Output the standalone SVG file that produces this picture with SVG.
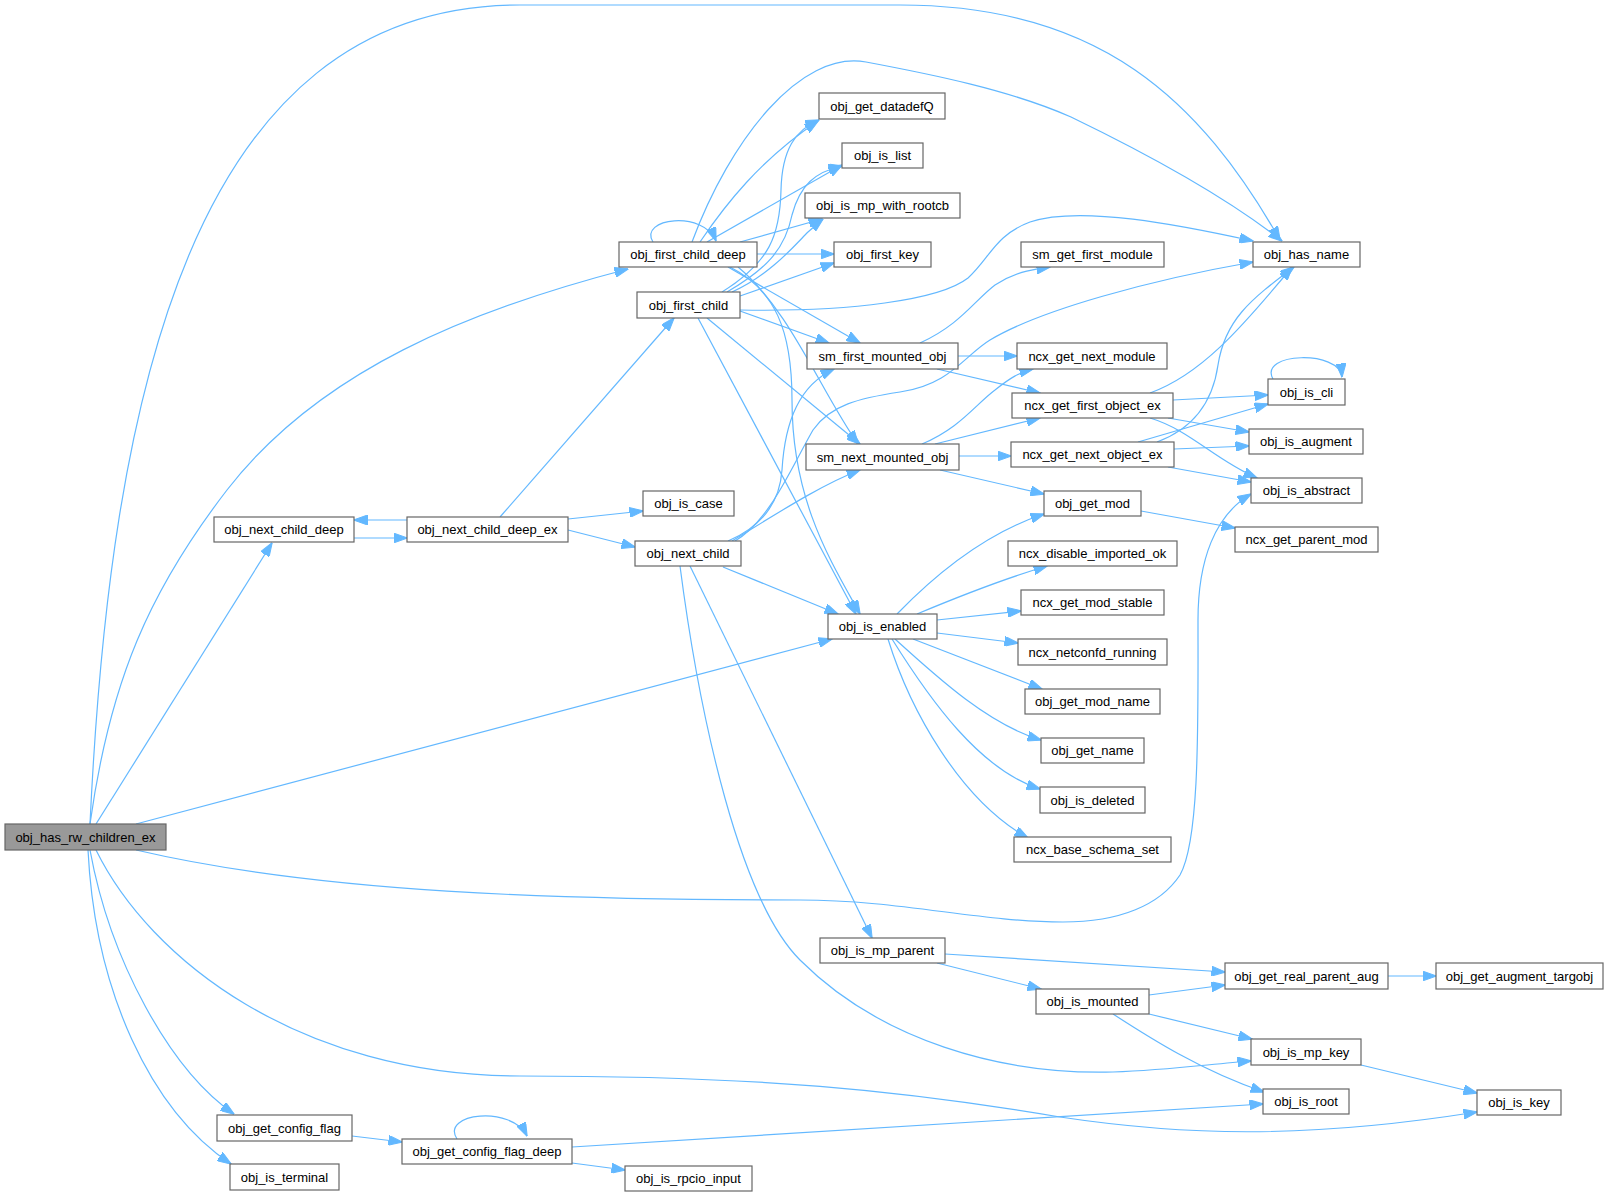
<svg xmlns="http://www.w3.org/2000/svg" width="1608" height="1197" viewBox="0 0 1608 1197">
<defs>
<style>
.n rect{fill:#fff;stroke:#666;stroke-width:1.2}
.n text{font-family:"Liberation Sans",Arial,sans-serif;font-size:13px;fill:#000;text-anchor:middle}
#edges path{fill:none;stroke:#63b8ff;stroke-width:1.2;marker-end:url(#ah)}
</style>
<marker id="ah" viewBox="0 0 14 10" refX="13.5" refY="5" markerWidth="14" markerHeight="10" markerUnits="userSpaceOnUse" orient="auto">
<path d="M0,0 L14,5 L0,10 z" fill="#63b8ff" stroke="#63b8ff" stroke-width="1"/>
</marker>
</defs>
<rect width="1608" height="1197" fill="#fff"/>
<g id="edges">
<path d="M90,824 C110,400 190,5 520,5 L900,5 C1100,5 1200,100 1280,240"/>
<path d="M90,824 C110,680 150,590 227,490 C320,370 470,310 628,269"/>
<path d="M96,824 L272,543"/>
<path d="M136,824 L832,639"/>
<path d="M136,850 C320,893 560,900 800,900 C900,900 980,922 1063,922 C1120,922 1160,905 1180,875 C1200,840 1198,720 1198,620 C1198,560 1215,515 1251,494"/>
<path d="M96,850 C150,960 300,1076 520,1076 C760,1076 900,1090 1060,1117 C1180,1135 1300,1140 1477,1112"/>
<path d="M90,850 C110,960 170,1070 234,1114"/>
<path d="M88,850 C95,990 150,1110 231,1164"/>
<path d="M354,538 L407,538"/>
<path d="M407,520 L354,520"/>
<path d="M500,517 L674,318"/>
<path d="M568,519 L643,511"/>
<path d="M568,530 L635,547"/>
<path d="M653,242 C638,218 704,210 716,241"/>
<path d="M700,242 C725,205 760,160 818,121"/>
<path d="M692,242 C730,140 800,50 866,62 C930,74 1010,90 1071,117 C1160,160 1230,200 1282,241"/>
<path d="M707,242 L842,165"/>
<path d="M740,242 L822,219"/>
<path d="M757,254 L834,254"/>
<path d="M728,267 L860,343"/>
<path d="M738,267 C790,310 820,390 858,444"/>
<path d="M730,267 C775,290 792,330 792,400 C792,500 830,560 860,614"/>
<path d="M722,292 C770,262 780,235 781,190 C782,150 795,130 819,120"/>
<path d="M727,292 C765,270 785,250 792,215 C800,185 815,172 842,166"/>
<path d="M732,292 C770,275 795,245 808,232 C815,226 818,223 823,219"/>
<path d="M740,296 L834,263"/>
<path d="M740,310 C850,312 940,300 968,278 C990,258 995,235 1030,222 C1080,205 1180,225 1253,241"/>
<path d="M740,311 L829,343"/>
<path d="M707,318 L860,444"/>
<path d="M698,318 L856,614"/>
<path d="M728,541 C765,525 780,500 782,470 C785,420 800,385 834,369"/>
<path d="M732,541 C770,518 820,485 860,470"/>
<path d="M723,567 L838,614"/>
<path d="M735,541 C770,520 790,470 813,430 C830,405 860,398 900,392 C950,385 965,355 990,340 C1040,310 1150,280 1253,262"/>
<path d="M690,566 L872,938"/>
<path d="M680,566 C700,720 740,900 800,960 C880,1040 1000,1075 1113,1072 C1170,1070 1210,1064 1251,1061"/>
<path d="M920,343 C960,325 975,300 995,285 C1015,272 1030,270 1050,267"/>
<path d="M958,356 L1017,356"/>
<path d="M937,369 L1040,393"/>
<path d="M922,444 C960,428 975,405 995,390 C1010,378 1020,372 1033,369"/>
<path d="M935,444 L1040,418"/>
<path d="M959,456 L1011,456"/>
<path d="M940,470 L1044,494"/>
<path d="M1150,393 C1200,375 1240,330 1292,267"/>
<path d="M1173,400 L1268,395"/>
<path d="M1168,418 L1249,432"/>
<path d="M1150,418 C1190,430 1215,460 1257,478"/>
<path d="M1157,442 C1195,428 1213,400 1218,365 C1225,320 1250,300 1294,267"/>
<path d="M1138,442 L1268,404"/>
<path d="M1174,449 L1249,446"/>
<path d="M1168,467 L1251,482"/>
<path d="M1273,379 C1258,352 1340,350 1342,377"/>
<path d="M1141,511 L1235,528"/>
<path d="M897,614 C930,580 980,535 1044,514"/>
<path d="M917,614 C960,596 1000,580 1047,566"/>
<path d="M937,620 L1021,611"/>
<path d="M937,633 L1018,643"/>
<path d="M913,639 L1042,689"/>
<path d="M895,639 C940,680 990,725 1041,740"/>
<path d="M892,639 C930,700 980,770 1040,789"/>
<path d="M888,639 C910,710 960,800 1028,838"/>
<path d="M945,954 L1225,972"/>
<path d="M937,963 L1041,989"/>
<path d="M1149,995 L1225,985"/>
<path d="M1149,1014 L1252,1039"/>
<path d="M1113,1014 C1150,1038 1200,1070 1264,1092"/>
<path d="M1388,976 L1436,976"/>
<path d="M1361,1065 L1477,1093"/>
<path d="M352,1136 L402,1142"/>
<path d="M457,1139 C440,1113 512,1105 527,1136"/>
<path d="M572,1147 L1263,1104"/>
<path d="M572,1163 L625,1170"/>
</g>
<g id="obj_has_rw_children_ex" class="n"><rect x="5" y="824" width="161" height="26" style="fill:#999"/><text x="85.5" y="841.5">obj_has_rw_children_ex</text></g>
<g id="obj_next_child_deep" class="n"><rect x="214" y="517" width="140" height="25"/><text x="284" y="534">obj_next_child_deep</text></g>
<g id="obj_next_child_deep_ex" class="n"><rect x="407" y="517" width="161" height="25"/><text x="487.5" y="534">obj_next_child_deep_ex</text></g>
<g id="obj_is_case" class="n"><rect x="643" y="491" width="91" height="25"/><text x="688.5" y="508">obj_is_case</text></g>
<g id="obj_next_child" class="n"><rect x="635" y="541" width="106" height="25"/><text x="688" y="558">obj_next_child</text></g>
<g id="obj_first_child_deep" class="n"><rect x="619" y="242" width="138" height="25"/><text x="688" y="259">obj_first_child_deep</text></g>
<g id="obj_first_child" class="n"><rect x="637" y="292" width="103" height="26"/><text x="688.5" y="309.5">obj_first_child</text></g>
<g id="obj_get_datadefQ" class="n"><rect x="819" y="93" width="126" height="26"/><text x="882" y="110.5">obj_get_datadefQ</text></g>
<g id="obj_is_list" class="n"><rect x="842" y="143" width="81" height="25"/><text x="882.5" y="160">obj_is_list</text></g>
<g id="obj_is_mp_with_rootcb" class="n"><rect x="805" y="193" width="155" height="25"/><text x="882.5" y="210">obj_is_mp_with_rootcb</text></g>
<g id="obj_first_key" class="n"><rect x="834" y="242" width="97" height="25"/><text x="882.5" y="259">obj_first_key</text></g>
<g id="obj_has_name" class="n"><rect x="1253" y="242" width="107" height="25"/><text x="1306.5" y="259">obj_has_name</text></g>
<g id="sm_get_first_module" class="n"><rect x="1021" y="242" width="143" height="25"/><text x="1092.5" y="259">sm_get_first_module</text></g>
<g id="sm_first_mounted_obj" class="n"><rect x="807" y="343" width="151" height="26"/><text x="882.5" y="360.5">sm_first_mounted_obj</text></g>
<g id="ncx_get_next_module" class="n"><rect x="1017" y="343" width="150" height="26"/><text x="1092" y="360.5">ncx_get_next_module</text></g>
<g id="ncx_get_first_object_ex" class="n"><rect x="1012" y="393" width="161" height="25"/><text x="1092.5" y="410">ncx_get_first_object_ex</text></g>
<g id="obj_is_cli" class="n"><rect x="1268" y="379" width="77" height="26"/><text x="1306.5" y="396.5">obj_is_cli</text></g>
<g id="obj_is_augment" class="n"><rect x="1249" y="429" width="114" height="25"/><text x="1306" y="446">obj_is_augment</text></g>
<g id="ncx_get_next_object_ex" class="n"><rect x="1011" y="442" width="163" height="25"/><text x="1092.5" y="459">ncx_get_next_object_ex</text></g>
<g id="sm_next_mounted_obj" class="n"><rect x="806" y="444" width="153" height="26"/><text x="882.5" y="461.5">sm_next_mounted_obj</text></g>
<g id="obj_is_abstract" class="n"><rect x="1251" y="478" width="111" height="25"/><text x="1306.5" y="495">obj_is_abstract</text></g>
<g id="obj_get_mod" class="n"><rect x="1044" y="491" width="97" height="25"/><text x="1092.5" y="508">obj_get_mod</text></g>
<g id="ncx_get_parent_mod" class="n"><rect x="1235" y="527" width="143" height="25"/><text x="1306.5" y="544">ncx_get_parent_mod</text></g>
<g id="ncx_disable_imported_ok" class="n"><rect x="1008" y="541" width="169" height="25"/><text x="1092.5" y="558">ncx_disable_imported_ok</text></g>
<g id="ncx_get_mod_stable" class="n"><rect x="1021" y="590" width="143" height="25"/><text x="1092.5" y="607">ncx_get_mod_stable</text></g>
<g id="obj_is_enabled" class="n"><rect x="828" y="614" width="109" height="25"/><text x="882.5" y="631">obj_is_enabled</text></g>
<g id="ncx_netconfd_running" class="n"><rect x="1018" y="639" width="149" height="26"/><text x="1092.5" y="656.5">ncx_netconfd_running</text></g>
<g id="obj_get_mod_name" class="n"><rect x="1025" y="689" width="135" height="25"/><text x="1092.5" y="706">obj_get_mod_name</text></g>
<g id="obj_get_name" class="n"><rect x="1041" y="738" width="103" height="25"/><text x="1092.5" y="755">obj_get_name</text></g>
<g id="obj_is_deleted" class="n"><rect x="1040" y="787" width="105" height="26"/><text x="1092.5" y="804.5">obj_is_deleted</text></g>
<g id="ncx_base_schema_set" class="n"><rect x="1014" y="837" width="157" height="25"/><text x="1092.5" y="854">ncx_base_schema_set</text></g>
<g id="obj_is_mp_parent" class="n"><rect x="820" y="938" width="125" height="25"/><text x="882.5" y="955">obj_is_mp_parent</text></g>
<g id="obj_get_real_parent_aug" class="n"><rect x="1225" y="963" width="163" height="26"/><text x="1306.5" y="980.5">obj_get_real_parent_aug</text></g>
<g id="obj_get_augment_targobj" class="n"><rect x="1436" y="963" width="167" height="26"/><text x="1519.5" y="980.5">obj_get_augment_targobj</text></g>
<g id="obj_is_mounted" class="n"><rect x="1036" y="989" width="113" height="25"/><text x="1092.5" y="1006">obj_is_mounted</text></g>
<g id="obj_is_mp_key" class="n"><rect x="1251" y="1039" width="110" height="26"/><text x="1306" y="1056.5">obj_is_mp_key</text></g>
<g id="obj_is_root" class="n"><rect x="1263" y="1089" width="86" height="25"/><text x="1306" y="1106">obj_is_root</text></g>
<g id="obj_is_key" class="n"><rect x="1477" y="1090" width="84" height="25"/><text x="1519" y="1107">obj_is_key</text></g>
<g id="obj_get_config_flag" class="n"><rect x="217" y="1115" width="135" height="26"/><text x="284.5" y="1132.5">obj_get_config_flag</text></g>
<g id="obj_get_config_flag_deep" class="n"><rect x="402" y="1139" width="170" height="25"/><text x="487" y="1156">obj_get_config_flag_deep</text></g>
<g id="obj_is_terminal" class="n"><rect x="230" y="1164" width="109" height="26"/><text x="284.5" y="1181.5">obj_is_terminal</text></g>
<g id="obj_is_rpcio_input" class="n"><rect x="625" y="1166" width="127" height="25"/><text x="688.5" y="1183">obj_is_rpcio_input</text></g>
</svg>
